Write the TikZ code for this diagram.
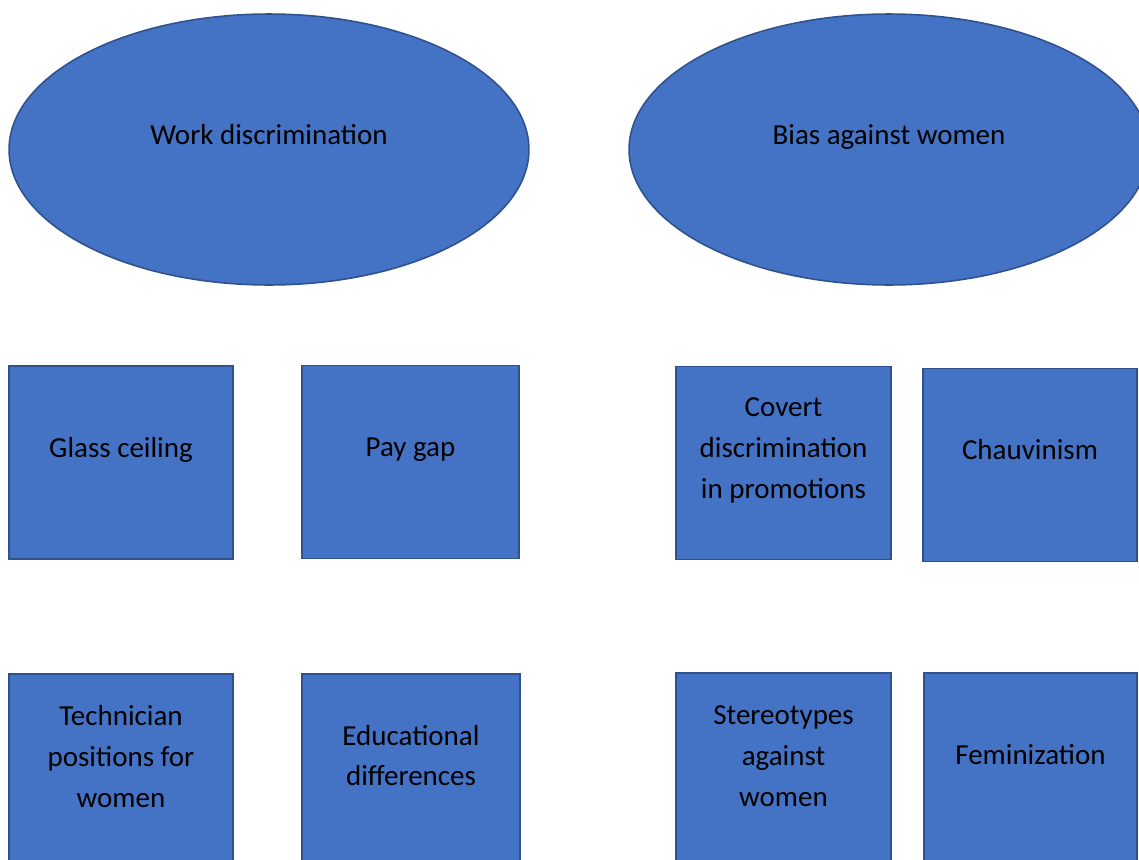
\documentclass[tikz,border=0pt]{standalone}
\usepackage{fontspec}
\setmainfont{Carlito}
\usepackage{tikz}
\usetikzlibrary{calc}
\usetikzlibrary{shapes}
\definecolor{boxfill}{HTML}{4472C4}
\definecolor{boxline}{HTML}{2F528F}

\begin{document}
\begin{tikzpicture}[x=0.02cm,y=-0.02cm,
	box/.style={draw=boxline,fill=boxfill,line width=0.9pt,inner sep=0pt,minimum height=3.86cm},
	oval/.style={ellipse,draw=boxline,fill=boxfill,line width=0.9pt,inner sep=0pt,minimum width=10.4cm,minimum height=5.42cm},
	lbl/.style={align=center,inner sep=0pt,font=\fontsize{16.5}{23.3}\selectfont},
	lblone/.style={lbl,anchor=base}]
	%		\draw [thin,densely dashed](0,0)grid(1139,859);
	\clip (0,0) rectangle (1139,859);
	
	\node[oval] (work) at (269,149.5) {};
	\node[oval] (bias) at (889,149.5) {};
	\node[lblone] (work-t) at ($(work)+(0,-5.5)$) {Work discrimination};
	\node[lblone] (bias-t) at ($(bias)+(0,-5.5)$) {Bias against women};
	
	\node[box,minimum width=4.48cm] (glass) at (121,462.5) {};
	\node[box,minimum width=4.34cm] (pay) at (410.5,462) {};
	\node[box,minimum width=4.3cm] (covert) at (783.5,463) {};
	\node[box,minimum width=4.28cm] (chauv) at (1030,465) {};
	\node[lblone] (glass-t) at ($(glass)+(0,-5.5)$) {Glass ceiling};
	\node[lblone] (pay-t) at ($(pay)+(0,-5.5)$) {Pay gap};
	\node[lbl] (covert-t) at ($(covert)+(0,-13)$) {Covert\\discrimination\\in promotions};
	\node[lblone] (chauv-t) at ($(chauv)+(0,-5.5)$) {Chauvinism};
	
	\node[box,minimum width=4.48cm] (tech) at (121,770.5) {};
	\node[box,minimum width=4.36cm] (edu) at (411,770.5) {};
	\node[box,minimum width=4.3cm] (stereo) at (783.5,769.5) {};
	\node[box,minimum width=4.26cm] (femin) at (1030.5,769.5) {};
	\node[lbl] (tech-t) at ($(tech)+(0,-14)$) {Technician\\positions for\\women};
	\node[lbl] (edu-t) at ($(edu)+(0,-15)$) {Educational\\differences};
	\node[lbl] (stereo-t) at ($(stereo)+(0,-13)$) {Stereotypes\\against\\women};
	\node[lblone] (femin-t) at ($(femin)+(0,-5.5)$) {Feminization};
	
\end{tikzpicture}
\end{document}
